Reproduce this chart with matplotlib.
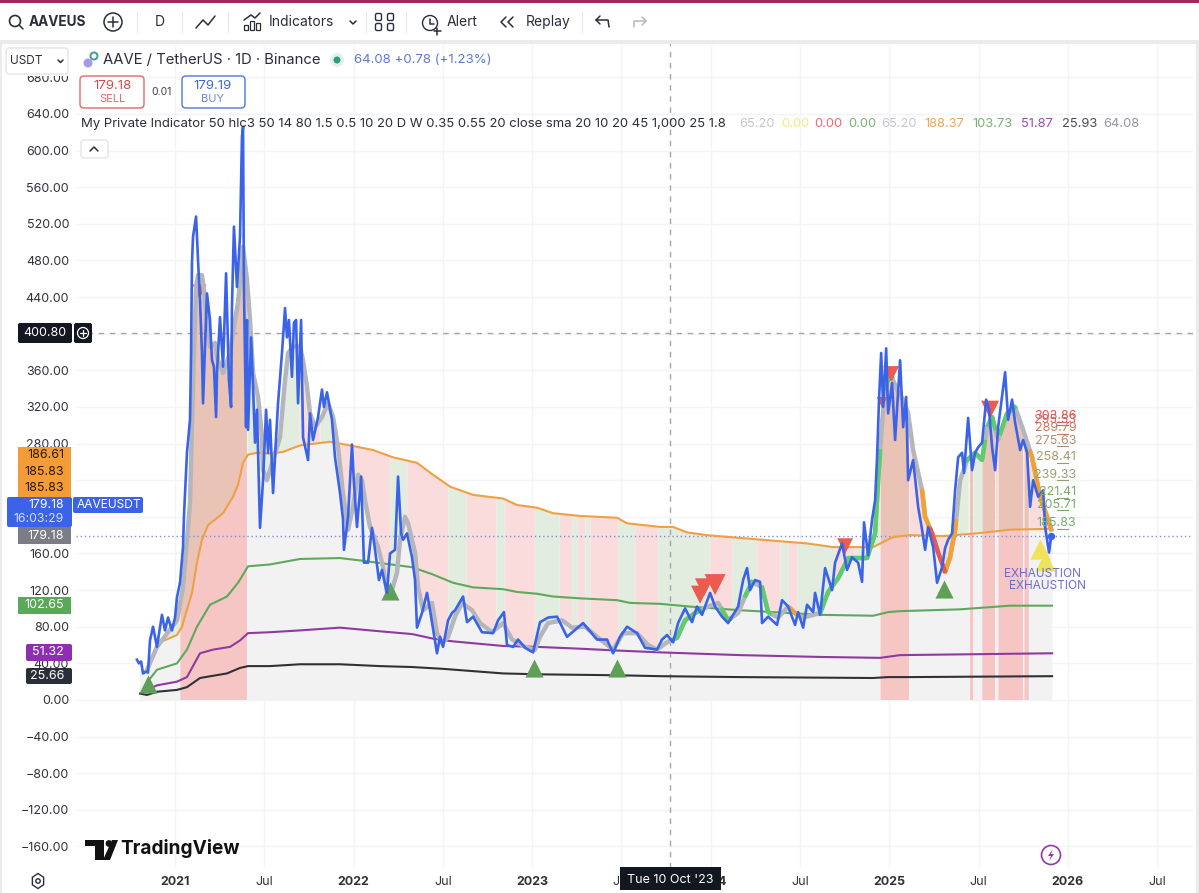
import numpy as np
import matplotlib
matplotlib.use("Agg")
import matplotlib.pyplot as plt
from matplotlib.patches import Rectangle, FancyBboxPatch, Circle, Polygon

plt.rcParams["font.family"] = ["Inter", "DejaVu Sans"]

# close price (time in fractional years)
price_t = [2020.787, 2020.798, 2020.810, 2020.821, 2020.838, 2020.849, 2020.860, 2020.877, 2020.899, 2020.927,
           2020.944, 2020.961, 2020.983, 2021.000, 2021.011, 2021.028, 2021.045, 2021.050, 2021.067, 2021.084,
           2021.090, 2021.095, 2021.101, 2021.118, 2021.129, 2021.140, 2021.151, 2021.157, 2021.168, 2021.179,
           2021.196, 2021.207, 2021.218, 2021.230, 2021.235, 2021.252, 2021.269, 2021.286, 2021.302, 2021.314,
           2021.319, 2021.330, 2021.347, 2021.364, 2021.375, 2021.381, 2021.386, 2021.398, 2021.403, 2021.409,
           2021.426, 2021.437, 2021.448, 2021.459, 2021.476, 2021.493, 2021.510, 2021.521, 2021.532, 2021.549,
           2021.566, 2021.577, 2021.599, 2021.616, 2021.627, 2021.638, 2021.655, 2021.666, 2021.678, 2021.689,
           2021.706, 2021.717, 2021.745, 2021.756, 2021.773, 2021.801, 2021.823, 2021.834, 2021.851, 2021.879,
           2021.896, 2021.924, 2021.941, 2021.946, 2021.969, 2021.991, 2022.002, 2022.019, 2022.042, 2022.058,
           2022.081, 2022.103, 2022.120, 2022.142, 2022.159, 2022.187, 2022.204, 2022.232, 2022.249, 2022.266,
           2022.277, 2022.299, 2022.327, 2022.344, 2022.355, 2022.383, 2022.411, 2022.428, 2022.467, 2022.484,
           2022.501, 2022.529, 2022.551, 2022.568, 2022.613, 2022.635, 2022.669, 2022.719, 2022.781, 2022.809,
           2022.842, 2022.859, 2022.893, 2022.921, 2022.960, 2023.005, 2023.044, 2023.089, 2023.139, 2023.195,
           2023.285, 2023.363, 2023.419, 2023.453, 2023.492, 2023.531, 2023.587, 2023.632, 2023.699, 2023.727,
           2023.755, 2023.789, 2023.817, 2023.856, 2023.895, 2023.923, 2023.951, 2023.996, 2024.024, 2024.063,
           2024.097, 2024.153, 2024.181, 2024.203, 2024.220, 2024.248, 2024.276, 2024.287, 2024.321, 2024.371,
           2024.399, 2024.433, 2024.472, 2024.489, 2024.517, 2024.539, 2024.573, 2024.584, 2024.612, 2024.640,
           2024.679, 2024.696, 2024.735, 2024.763, 2024.791, 2024.825, 2024.847, 2024.858, 2024.881, 2024.903,
           2024.920, 2024.931, 2024.942, 2024.954, 2024.965, 2024.982, 2024.993, 2025.015, 2025.032, 2025.060,
           2025.077, 2025.094, 2025.105, 2025.133, 2025.161, 2025.183, 2025.200, 2025.217, 2025.245, 2025.267,
           2025.295, 2025.312, 2025.329, 2025.351, 2025.368, 2025.385, 2025.407, 2025.418, 2025.441, 2025.463,
           2025.480, 2025.497, 2025.519, 2025.542, 2025.558, 2025.575, 2025.592, 2025.609, 2025.648, 2025.665,
           2025.687, 2025.704, 2025.732, 2025.749, 2025.771, 2025.788, 2025.805, 2025.833, 2025.861, 2025.872,
           2025.894, 2025.906]
price = [44, 40, 42, 29, 31, 30, 65, 80, 58, 93,
         76, 90, 76, 90, 112, 128, 167, 200, 270, 306,
         379, 477, 506, 528, 480, 437, 379, 324, 386, 444,
         415, 371, 364, 309, 357, 418, 364, 466, 349, 320,
         429, 517, 451, 506, 615, 626, 451, 298, 415, 295,
         396, 342, 281, 317, 188, 240, 317, 270, 306, 226,
         287, 324, 379, 428, 396, 415, 353, 412, 415, 324,
         415, 287, 262, 313, 284, 309, 339, 320, 336, 306,
         265, 226, 197, 164, 200, 279, 237, 189, 244, 150,
         150, 188, 164, 131, 142, 117, 160, 164, 244, 182,
         175, 182, 156, 131, 79, 95, 117, 98, 51, 69,
         58, 87, 95, 98, 113, 85, 91, 74, 73, 87,
         96, 60, 58, 66, 57, 52, 85, 90, 91, 69,
         84, 66, 66, 51, 69, 80, 73, 57, 55, 66,
         71, 63, 84, 100, 85, 102, 93, 117, 102, 91,
         84, 102, 131, 144, 120, 131, 129, 84, 91, 82,
         109, 102, 82, 96, 79, 104, 96, 117, 93, 144,
         120, 150, 171, 142, 156, 150, 129, 194, 158, 197,
         218, 265, 328, 379, 320, 384, 313, 346, 284, 371,
         298, 331, 240, 262, 211, 186, 164, 189, 167, 128,
         145, 166, 175, 182, 229, 265, 270, 248, 308, 251,
         270, 276, 281, 328, 317, 276, 251, 298, 358, 306,
         328, 303, 273, 284, 270, 211, 240, 222, 229, 189,
         161, 179]

# thick smoothed line
smooth_t = [2020.843, 2020.899, 2021.011, 2021.045, 2021.084, 2021.095, 2021.106, 2021.118, 2021.129, 2021.151,
            2021.162, 2021.179, 2021.196, 2021.224, 2021.241, 2021.269, 2021.308, 2021.336, 2021.353, 2021.381,
            2021.403, 2021.420, 2021.437, 2021.465, 2021.487, 2021.493, 2021.515, 2021.549, 2021.588, 2021.616,
            2021.633, 2021.661, 2021.700, 2021.717, 2021.739, 2021.756, 2021.784, 2021.823, 2021.857, 2021.885,
            2021.913, 2021.941, 2021.969, 2021.997, 2022.025, 2022.047, 2022.064, 2022.092, 2022.137, 2022.165,
            2022.187, 2022.215, 2022.243, 2022.260, 2022.288, 2022.305, 2022.344, 2022.361, 2022.389, 2022.439,
            2022.467, 2022.495, 2022.529, 2022.568, 2022.607, 2022.663, 2022.708, 2022.775, 2022.837, 2022.887,
            2022.960, 2023.016, 2023.044, 2023.089, 2023.167, 2023.223, 2023.296, 2023.363, 2023.453, 2023.509,
            2023.587, 2023.649, 2023.699, 2023.755, 2023.811, 2023.856, 2023.912, 2023.985, 2024.041, 2024.097,
            2024.153, 2024.192, 2024.231, 2024.287, 2024.321, 2024.377, 2024.433, 2024.483, 2024.517, 2024.612,
            2024.657, 2024.713, 2024.769, 2024.875, 2024.920, 2024.937, 2024.959, 2024.976, 2025.004, 2025.043,
            2025.077, 2025.105, 2025.133, 2025.183, 2025.200, 2025.239, 2025.273, 2025.312, 2025.340, 2025.368,
            2025.396, 2025.435, 2025.480, 2025.519, 2025.547, 2025.575, 2025.609, 2025.659, 2025.704, 2025.749,
            2025.799, 2025.844, 2025.883, 2025.906]
smooth = [33, 58, 87, 123, 215, 300, 379, 451, 464, 464,
          448, 415, 386, 390, 371, 357, 379, 415, 434, 495,
          459, 415, 357, 331, 287, 251, 240, 262, 287, 349,
          379, 386, 386, 371, 342, 313, 298, 309, 324, 309,
          276, 225, 186, 211, 246, 240, 218, 189, 167, 145,
          118, 120, 139, 175, 200, 193, 161, 123, 98, 106,
          73, 62, 69, 91, 106, 98, 84, 74, 84, 66,
          58, 55, 69, 84, 87, 79, 80, 69, 55, 73,
          73, 60, 55, 63, 68, 87, 95, 102, 106, 87,
          95, 113, 129, 123, 96, 90, 102, 93, 90, 95,
          118, 133, 155, 155, 182, 240, 303, 339, 357, 339,
          328, 313, 273, 229, 200, 182, 161, 140, 156, 186,
          240, 262, 270, 262, 298, 309, 284, 313, 320, 295,
          265, 222, 200, 186]

# moving averages
orange_t = [2020.843, 2020.905, 2021.011, 2021.039, 2021.095, 2021.123, 2021.151, 2021.185, 2021.269, 2021.325,
            2021.353, 2021.381, 2021.409, 2021.459, 2021.532, 2021.605, 2021.700, 2021.868, 2021.980, 2022.109,
            2022.221, 2022.355, 2022.445, 2022.540, 2022.669, 2022.837, 2022.915, 2023.027, 2023.117, 2023.268,
            2023.475, 2023.531, 2023.716, 2023.789, 2023.867, 2023.979, 2024.164, 2024.349, 2024.539, 2024.685,
            2024.909, 2025.021, 2025.116, 2025.301, 2025.491, 2025.676, 2025.911]
orange = [33, 62, 71, 80, 117, 150, 175, 191, 204, 222,
          235, 259, 268, 270, 269, 271, 278, 282, 278, 273,
          265, 259, 246, 233, 224, 220, 213, 210, 204, 201,
          199, 193, 189, 189, 183, 180, 177, 174, 171, 167,
          167, 178, 180, 179, 182, 186, 187]
green_t = [2020.843, 2020.899, 2021.011, 2021.067, 2021.123, 2021.196, 2021.291, 2021.353, 2021.409, 2021.532,
           2021.700, 2021.924, 2022.053, 2022.327, 2022.445, 2022.557, 2022.669, 2022.837, 2022.915, 2023.027,
           2023.117, 2023.268, 2023.475, 2023.548, 2023.716, 2023.884, 2024.164, 2024.349, 2024.612, 2024.909,
           2024.993, 2025.060, 2025.396, 2025.676, 2025.911]
green = [19, 33, 40, 55, 80, 104, 113, 128, 146, 148,
         154, 155, 152, 145, 137, 128, 123, 121, 118, 116,
         113, 111, 109, 106, 105, 102, 98, 96, 93, 92,
         96, 97, 99, 103, 103]
purple_t = [2020.843, 2020.899, 2021.011, 2021.067, 2021.140, 2021.213, 2021.308, 2021.364, 2021.409, 2021.532,
            2021.700, 2021.924, 2022.148, 2022.327, 2022.445, 2022.557, 2022.837, 2023.027, 2023.268, 2023.475,
            2023.716, 2024.164, 2024.612, 2024.948, 2025.060, 2025.911]
purple = [11, 16, 20, 25, 51, 55, 58, 65, 73, 74,
          76, 79, 75, 72, 67, 64, 59, 58, 56, 54,
          52, 49, 47, 46, 49, 51]
black_t = [2020.804, 2020.843, 2020.899, 2021.011, 2021.067, 2021.140, 2021.291, 2021.364, 2021.409, 2021.532,
           2021.700, 2021.924, 2022.148, 2022.327, 2022.501, 2022.837, 2023.044, 2023.475, 2023.716, 2024.164,
           2024.909, 2024.993, 2025.116, 2025.911]
black = [7, 5.5, 9, 11, 14, 24, 29, 35, 37, 37,
         39, 39, 37, 36, 34, 29, 28, 27, 26, 25,
         24, 25, 25, 26]

# background bands
strong_bands = [(2021.028, 2021.403), (2024.948, 2025.110), (2025.452, 2025.469), (2025.519, 2025.592),
                (2025.609, 2025.749), (2025.754, 2025.782)]
green_bands = [(2020.849, 2021.028), (2021.403, 2021.700), (2021.812, 2021.896), (2022.204, 2022.299),
               (2022.529, 2022.635), (2022.798, 2022.848), (2023.016, 2023.156), (2023.223, 2023.257),
               (2023.296, 2023.324), (2023.481, 2023.576), (2023.705, 2023.996), (2024.119, 2024.259),
               (2024.388, 2024.433), (2024.483, 2024.696), (2024.808, 2024.948), (2025.368, 2025.446),
               (2025.469, 2025.519)]

# colour of the thick line
green_segs = [(2023.783, 2023.940), (2024.063, 2024.108), (2024.192, 2024.231), (2024.287, 2024.332),
              (2024.612, 2024.948), (2024.976, 2025.015), (2025.435, 2025.536), (2025.553, 2025.592),
              (2025.620, 2025.704)]
orange_segs = [(2024.444, 2024.472), (2025.183, 2025.228), (2025.312, 2025.374), (2025.788, 2025.906)]
red_segs = [(2025.228, 2025.312)]

# signals
up_t = [2020.849, 2022.204, 2023.010, 2023.475, 2025.306]
up_y = [17, 119, 35, 35, 121]
down_t = [2021.134, 2023.940, 2023.962, 2024.024, 2024.752, 2024.959, 2025.010, 2025.564]
down_y = [447, 115, 123, 126, 168, 325, 356, 317]
down_size = [100, 170, 170, 230, 130, 60, 130, 170]
yellow_t = [2025.844, 2025.872]
yellow_y = [165, 152]

level_labels = ["303.86", "295.53", "289.79", "275.63", "258.41", "239.33", "221.41", "205.71", "185.83"]
level_y = [310, 306, 297, 283, 265, 246, 227, 213, 193]
level_cols = ["#d9534f", "#d9635a", "#c9785f", "#b58e72", "#a39a6c", "#97a070", "#7fa968", "#76ab68", "#6fb06a"]

y_ticks = list(range(680, -200, -40))
x_ticks = [2021, 2021.5, 2022, 2022.5, 2023, 2023.5, 2024, 2024.5, 2025, 2025.5, 2026, 2026.5]
x_labels = ["2021", "Jul", "2022", "Jul", "2023", "Jul", "2024", "Jul", "2025", "Jul", "2026", "Jul"]

cross_t = 2023.773
cross_y = 400.80
last_t = 2025.906
last_y = 179.18

BLUE = "#3a63e8"
W, H = 1199, 893


def in_ranges(x, ranges):
    m = np.zeros(len(x), dtype=bool)
    for a, b in ranges:
        m |= (x >= a) & (x <= b)
    return m


fig = plt.figure(figsize=(W / 100, H / 100), dpi=100, facecolor="white")
ax = fig.add_axes([76 / W, 1 - 868 / H, (1193 - 76) / W, (868 - 42) / H])
ax.set_xlim(2020.4457, 2026.700)
ax.set_ylim(-183.5, 718.6)
for s in ax.spines.values():
    s.set_visible(False)

ax.set_yticks(y_ticks)
ax.set_yticklabels([f"{v:.2f}".replace("-", "\u2212") for v in y_ticks], fontsize=9, color="#2f3238")
ax.set_xticks(x_ticks)
ax.set_xticklabels(x_labels, fontsize=9, color="#2f3238")
for lab, txt in zip(ax.get_xticklabels(), x_labels):
    if txt != "Jul":
        lab.set_fontweight("bold")
ax.tick_params(length=0)
ax.tick_params(axis="y", pad=5)
ax.tick_params(axis="x", pad=6)
ax.grid(color="#f3f4f6", lw=1)
ax.set_axisbelow(True)

grid = np.arange(2020.80, 2025.911, 1 / 365)
orange_g = np.interp(grid, orange_t, orange, left=orange[0])
smooth_g = np.interp(grid, smooth_t, smooth)
start = grid >= smooth_t[0]
strong = in_ranges(grid, strong_bands)
pale_green = in_ranges(grid, green_bands)

ax.fill_between(grid, 0, orange_g, color="#f2f2f3", lw=0, zorder=1)
ax.fill_between(grid, 0, orange_g, where=strong, color="#f6c6c5", lw=0, zorder=1.1)
ax.fill_between(grid, smooth_g, orange_g, where=start & ~strong & ~pale_green, color="#fbdcdc", lw=0, zorder=1.2)
ax.fill_between(grid, smooth_g, orange_g, where=start & pale_green, color="#e2ecdf", lw=0, zorder=1.2)
ax.fill_between(grid, smooth_g, orange_g, where=strong & (smooth_g > orange_g), color="#e9c3b6", lw=0, zorder=1.2)

ax.axhline(cross_y, color="#a3a6ae", lw=1, dashes=(4, 4), zorder=1.5)
ax.axvline(cross_t, color="#a3a6ae", lw=1, dashes=(4, 4), zorder=1.5)
ax.axhline(last_y, color="#7f8fe0", lw=1, dashes=(1, 2), zorder=1.5)

ax.plot(orange_t, orange, color="#f0a044", lw=1.5, zorder=3)
ax.plot(green_t, green, color="#5fa85c", lw=1.5, zorder=3)
ax.plot(purple_t, purple, color="#8e3a9e", lw=1.5, zorder=3)
ax.plot(black_t, black, color="#2f3136", lw=1.5, zorder=3)

# first sell mark sits under the thick line, the others on top
ax.scatter(down_t[:1], down_y[:1], marker="v", s=down_size[:1], color="#ec5b50", lw=0, zorder=3.4)
ax.plot(smooth_t, smooth, color="#b4b6bc", lw=3.2, zorder=3.5)
for segs, col in [(green_segs, "#5fcb6d"), (orange_segs, "#f2a134"), (red_segs, "#e8584f")]:
    for a, b in segs:
        m = (grid >= a) & (grid <= b)
        ax.plot(grid[m], smooth_g[m], color=col, lw=3.2, zorder=3.6)

ax.scatter(up_t, up_y, marker="^", s=170, color="#5f9f58", lw=0, zorder=4)
ax.scatter(down_t[1:], down_y[1:], marker="v", s=down_size[1:], color="#ec5b50", lw=0, zorder=4)
ax.scatter(yellow_t, yellow_y, marker="^", s=210, color="#efe35c", lw=0, zorder=4)

ax.plot(price_t, price, color=BLUE, lw=1.9, zorder=5)
ax.scatter([last_t], [last_y], s=28, color=BLUE, lw=0, zorder=6)

for txt, y, col in zip(level_labels, level_y, level_cols):
    ax.text(2026.046, y, txt, ha="right", va="center", fontsize=9, color=col, zorder=7)
    ax.plot([2025.94, 2026.0], [y - 6, y - 6], color=col, lw=0.8, zorder=7)
ax.text(2025.858, 138, "EXHAUSTION", ha="center", va="center", fontsize=8.5, color="#6a6cd0", zorder=7)
ax.text(2025.883, 125, "EXHAUSTION", ha="center", va="center", fontsize=8.5, color="#6a6cd0", zorder=7)

# everything around the chart, in pixel coordinates
ui = fig.add_axes([0, 0, 1, 1], zorder=10)
ui.set_xlim(0, W)
ui.set_ylim(H, 0)
ui.axis("off")
ui.patch.set_alpha(0)


def rect(x0, y0, x1, y1, col, **kw):
    ui.add_patch(Rectangle((x0, y0), x1 - x0, y1 - y0, facecolor=col, lw=0, **kw))


def rbox(x0, y0, x1, y1, face, edge="none", r=3, lw=1):
    ui.add_patch(FancyBboxPatch((x0 + r, y0 + r), x1 - x0 - 2 * r, y1 - y0 - 2 * r,
                                boxstyle=f"round,pad={r}", facecolor=face, edgecolor=edge, lw=lw))


def label(x, y, s, col="#2a2e39", size=9, ha="center", **kw):
    ui.text(x, y, s, color=col, fontsize=size, ha=ha, va="center", **kw)


def stroke(xs, ys, col="#2a2e39", lw=1.1):
    ui.plot(xs, ys, color=col, lw=lw, solid_capstyle="round")


# frame and toolbar
rect(0, 0, W, 3, "#9b2a58")
rect(0, 3, W, 40, "white")
rect(0, 40, W, 44, "#ebebec")
rect(0, 44, 2, H, "#ebebec")
rect(1196, 44, W, H, "#ebebec")
rect(2, 44, 76, 76, "white")

ui.add_patch(Circle((15, 21), 5.5, fc="none", ec="#2a2e39", lw=1.2))
stroke([19, 23], [25, 29])
label(29, 22, "AAVEUS", size=9.8, ha="left", fontweight="bold")
ui.add_patch(Circle((113, 22), 9, fc="none", ec="#2a2e39", lw=1.1))
stroke([108, 118], [22, 22])
stroke([113, 113], [17, 27])
for xv in [137, 182, 228, 366, 406, 582]:
    stroke([xv, xv], [12, 32], "#e6e6e8", 0.8)
label(160, 22, "D", size=10)
stroke([196, 203, 208, 215], [28, 20, 25, 16])
for i, bh in enumerate([5, 9, 7]):
    ui.add_patch(Rectangle((244 + i * 6, 30 - bh), 4, bh, fc="none", ec="#2a2e39", lw=0.9))
stroke([244, 251, 255, 260], [20, 15, 18, 13])
label(269, 22, "Indicators", size=10, ha="left")
stroke([350, 353, 356], [21, 24, 21])
for gx in [378, 390]:
    for gy in [17, 27]:
        rbox(gx - 2.5, gy - 3.5, gx + 3.5, gy + 3.5, "none", "#2a2e39", r=1.5)
ui.add_patch(Circle((430, 23), 7.5, fc="none", ec="#2a2e39", lw=1))
stroke([430, 430, 434], [19, 24, 24])
stroke([437, 437], [28, 35])
stroke([434, 441], [31, 31])
label(447, 22, "Alert", size=10, ha="left")
stroke([506, 501, 506], [17, 22, 27])
stroke([513, 508, 513], [17, 22, 27])
label(526, 22, "Replay", size=10, ha="left")
stroke([596, 608, 609], [20, 20, 27])
stroke([596, 600], [20, 16])
stroke([596, 600], [20, 24])
stroke([634, 634, 646], [27, 21, 21], "#b6b8be")
stroke([642, 646, 642], [17, 21, 25], "#b6b8be")

# legend
rbox(6, 48, 68, 74, "white", "#e4e5e8", r=3)
label(10, 61, "USDT", size=8.5, ha="left")
stroke([58, 60.5, 63], [60, 62.5, 60])
ui.add_patch(Circle((88, 63), 4.5, fc="#a79be6", ec="none"))
ui.add_patch(Circle((94, 56), 3.5, fc="none", ec="#3f9d94", lw=1.4))
label(103, 60, "AAVE / TetherUS \u00b7 1D \u00b7 Binance", size=10.7, ha="left")
ui.add_patch(Circle((337, 60), 7, fc="#e3f1ec", ec="none"))
ui.add_patch(Circle((337, 60), 3.5, fc="#2f9e7e", ec="none"))
label(354, 60, "64.08 +0.78 (+1.23%)", "#5b79da", size=9.5, ha="left")

rbox(80, 76, 144, 108, "white", "#dd6a6a", r=4)
label(112, 86, "179.18", "#d9484d", size=9.5)
label(112, 99, "SELL", "#e0666a", size=8)
label(162, 92, "0.01", "#3c3f47", size=7.5)
rbox(182, 76, 245, 108, "white", "#4f74e0", r=4)
label(213, 86, "179.19", "#3f66dc", size=9.5)
label(213, 99, "BUY", "#6a88e2", size=8)

label(81, 124, "My Private Indicator 50 hlc3 50 14 80 1.5 0.5 10 20 D W 0.35 0.55 20 close sma 20 10 20 45 1,000 25 1.8",
      "#2a2e39", size=9.45, ha="left")
legend_x = [739, 781, 814, 848, 881, 924, 972, 1021, 1062, 1103]
legend_s = ["65.20", "0.00", "0.00", "0.00", "65.20", "188.37", "103.73", "51.87", "25.93", "64.08"]
legend_c = ["#c5c7cc", "#f5e98a", "#ee6a6f", "#79b277", "#c5c7cc", "#f0a65a", "#79b277", "#9a4fb0", "#4a4d55", "#94969d"]
for xv, s, c in zip(legend_x, legend_s, legend_c):
    label(xv, 124, s, c, size=9.3, ha="left")
rbox(81, 140, 108, 158, "white", "#e4e5e8", r=3)
stroke([90, 94, 98], [151, 147, 151])

# price tags
rbox(18, 323, 72, 343, "#131722", r=2)
label(66, 333, "400.80", "white", size=9, ha="right")
rbox(74, 323, 92, 343, "#131722", r=2)
ui.add_patch(Circle((83, 333), 5.5, fc="none", ec="white", lw=0.9))
stroke([80, 86], [333, 333], "white", 0.9)
stroke([83, 83], [330, 336], "white", 0.9)

rect(18, 447, 71, 497, "#f49d36")
for yv, s in [(455, "186.61"), (472, "185.83"), (488, "185.83")]:
    label(64, yv, s, "#2a1a08", size=9, ha="right")
rbox(7, 497, 72, 527, BLUE, r=2)
label(64, 505, "179.18", "white", size=8.8, ha="right")
label(64, 519, "16:03:29", "#d5defa", size=8.8, ha="right")
rbox(73, 497, 143, 513, BLUE, r=2)
label(77, 505, "AAVEUSDT", "white", size=8.6, ha="left")
rect(18, 527, 71, 544, "#7b7d86")
label(64, 536, "179.18", "white", size=9, ha="right")
rect(18, 597, 71, 614, "#5ba85a")
label(64, 605, "102.65", "white", size=9, ha="right")
rbox(26, 644, 72, 661, "#8e2fb0", r=2)
label(64, 652, "51.32", "white", size=9, ha="right")
rbox(26, 668, 72, 684, "#2a2e39", r=2)
label(64, 676, "25.66", "white", size=9, ha="right")

# logo, bolt, settings, date
rect(85, 840, 104, 846, "#111111")
rect(95, 846, 104, 860, "#111111")
ui.add_patch(Circle((109, 843.5), 3.4, fc="#111111", ec="none"))
ui.add_patch(Polygon([(112, 840), (118, 840), (110, 860), (103, 860)], closed=True, fc="#111111", ec="none"))
label(120, 848, "TradingView", "#111111", size=13.7, ha="left", fontweight="bold")

ui.add_patch(Circle((1051, 855), 9.5, fc="white", ec="#8e3aa8", lw=1.2))
ui.add_patch(Polygon([(1053, 849), (1048, 856), (1051, 856), (1049, 861), (1054, 854), (1051, 854)],
                     closed=True, fc="#8e3aa8", ec="none"))

hx = [38 + 6.5 * np.cos(np.pi / 6 + i * np.pi / 3) for i in range(6)]
hy = [881 + 7.5 * np.sin(np.pi / 6 + i * np.pi / 3) for i in range(6)]
ui.add_patch(Polygon(list(zip(hx, hy)), closed=True, fc="none", ec="#2a2e39", lw=1))
ui.add_patch(Circle((38, 881), 2.2, fc="none", ec="#2a2e39", lw=1))

rect(620, 867, 721, 890, "#131722")
label(670, 880, "Tue 10 Oct '23", "white", size=9)

fig.savefig("out.png", dpi=100, facecolor="white")
